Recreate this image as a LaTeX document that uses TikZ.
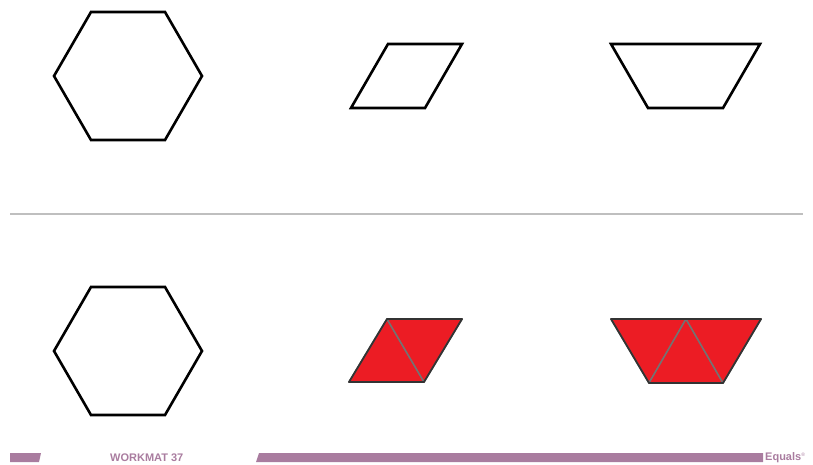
\documentclass[tikz,border=0pt]{standalone}
\usepackage{fontspec}
\setmainfont{Liberation Sans}
\definecolor{matpurple}{HTML}{A97C9F}
\definecolor{blockred}{HTML}{EC1C24}
\tikzset{
  outline/.style={draw=black,line width=2.6pt,line join=miter},
  redpiece/.style={fill=blockred,draw=black!55,line width=1.5pt,line join=round},
  pieceedge/.style={draw=black!80,line width=1.8pt,line join=round},
  footbar/.style={fill=matpurple,draw=none},
  foottext/.style={text=matpurple,font=\bfseries\fontsize{11}{12}\selectfont,inner sep=0pt}
}
\begin{document}
\begin{tikzpicture}[x=1pt,y=-1pt]
\useasboundingbox (0,0) rectangle (813,465);
% upper half: outlines to fill
\draw[outline] (54,76) -- (91,12) -- (165,12) -- (202,76) -- (165,140) -- (91,140) -- cycle;
\draw[outline] (351,108) -- (425,108) -- (462,44) -- (388,44) -- cycle;
\draw[outline] (611,44) -- (760,44) -- (723,108) -- (648,108) -- cycle;
% divider
\draw[black!25,line width=2pt] (10,214) -- (803,214);
% lower half
\draw[outline] (54,351) -- (91,287) -- (165,287) -- (202,351) -- (165,415) -- (91,415) -- cycle;
\coordinate (pBL) at (349,382);
\coordinate (pBR) at (424,382);
\coordinate (pTL) at (387,319);
\coordinate (pTR) at (462,319);
\filldraw[redpiece] (pBL) -- (pBR) -- (pTL) -- cycle;
\filldraw[redpiece] (pTL) -- (pTR) -- (pBR) -- cycle;
\draw[pieceedge] (pBL) -- (pBR) -- (pTR) -- (pTL) -- cycle;
\coordinate (tTL) at (611,319);
\coordinate (tTM) at (686,319);
\coordinate (tTR) at (761,319);
\coordinate (tBL) at (649,383);
\coordinate (tBR) at (723,383);
\filldraw[redpiece] (tTL) -- (tTM) -- (tBL) -- cycle;
\filldraw[redpiece] (tBL) -- (tBR) -- (tTM) -- cycle;
\filldraw[redpiece] (tTM) -- (tTR) -- (tBR) -- cycle;
\draw[pieceedge] (tTL) -- (tTR) -- (tBR) -- (tBL) -- cycle;
% footer
\fill[footbar] (10,453) -- (41,453) -- (39,462) -- (10,462) -- cycle;
\node[foottext,anchor=west] (mat) at (110,458) {WORKMAT 37};
\fill[footbar] (259,453) -- (763,453) -- (763,462) -- (256,462) -- cycle;
\node[foottext,anchor=west] (brand) at (765,458) {Equals\textsuperscript{\tiny\normalfont ®}};
\end{tikzpicture}
\end{document}
